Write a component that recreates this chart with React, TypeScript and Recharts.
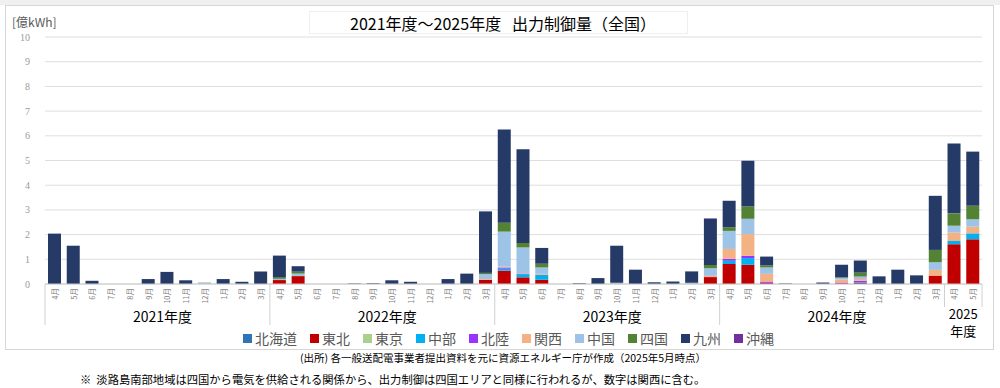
import React from 'react';
import { BarChart, Bar, XAxis, YAxis, CartesianGrid, Legend } from 'recharts';

const monthLabels = [
  '4月','5月','6月','7月','8月','9月','10月','11月','12月','1月','2月','3月',
  '4月','5月','6月','7月','8月','9月','10月','11月','12月','1月','2月','3月',
  '4月','5月','6月','7月','8月','9月','10月','11月','12月','1月','2月','3月',
  '4月','5月','6月','7月','8月','9月','10月','11月','12月','1月','2月','3月',
  '4月','5月',
];

const fiscalYears = [
  '2021年度','2021年度','2021年度','2021年度','2021年度','2021年度','2021年度','2021年度','2021年度','2021年度','2021年度','2021年度',
  '2022年度','2022年度','2022年度','2022年度','2022年度','2022年度','2022年度','2022年度','2022年度','2022年度','2022年度','2022年度',
  '2023年度','2023年度','2023年度','2023年度','2023年度','2023年度','2023年度','2023年度','2023年度','2023年度','2023年度','2023年度',
  '2024年度','2024年度','2024年度','2024年度','2024年度','2024年度','2024年度','2024年度','2024年度','2024年度','2024年度','2024年度',
  '2025年度','2025年度',
];

const seriesNames = ['北海道','東北','東京','中部','北陸','関西','中国','四国','九州','沖縄'];
const seriesColors = ['#2E75B6','#C00000','#A9D18E','#00B0F0','#9933FF','#F4B183','#9DC3E6','#548235','#253A66','#7030A0'];

const hokkaido = [
  0,0,0,0,0,0,0,0,0,0,0,0,
  0,0,0,0,0,0,0,0,0,0,0,0,
  0,0,0,0,0,0,0,0,0,0,0,0,
  0,0,0,0,0,0,0,0,0,0,0,0,
  0,0,
];
const tohoku = [
  0,0,0,0,0,0,0,0,0,0,0,0,
  0.16,0.32,0,0,0,0,0,0,0,0,0,0.17,
  0.54,0.27,0.17,0,0,0,0,0,0,0,0,0.28,
  0.81,0.78,0.05,0,0,0,0.03,0.04,0,0,0,0.34,
  1.61,1.81,
];
const tokyo = [
  0,0,0,0,0,0,0,0,0,0,0,0,
  0,0,0,0,0,0,0,0,0,0,0,0,
  0,0,0,0,0,0,0,0,0,0,0,0,
  0,0,0,0,0,0,0,0,0,0,0,0,
  0,0,
];
const chubu = [
  0,0,0,0,0,0,0,0,0,0,0,0,
  0,0,0,0,0,0,0,0,0,0,0,0,
  0.08,0.13,0.2,0,0,0,0,0,0,0,0,0,
  0.13,0.27,0,0,0,0,0,0.03,0,0,0,0,
  0.13,0.24,
];
const hokuriku = [
  0,0,0,0,0,0,0,0,0,0,0,0,
  0,0,0,0,0,0,0,0,0,0,0,0,
  0.05,0.02,0,0,0,0,0,0,0,0,0,0,
  0.08,0.09,0.05,0,0,0,0.03,0.06,0,0,0,0,
  0,0,
];
const kansai = [
  0,0,0,0,0,0,0,0,0,0,0,0,
  0,0,0,0,0,0,0,0,0,0,0,0.03,
  0.03,0.02,0.04,0,0,0,0,0,0,0,0,0.05,
  0.4,0.88,0.31,0,0,0,0.12,0.07,0,0,0,0.23,
  0.34,0.27,
];
const chugoku = [
  0,0,0,0,0,0,0,0,0.04,0,0,0,
  0.05,0.1,0,0,0,0,0,0,0,0,0,0.2,
  1.42,1.04,0.26,0,0,0,0.05,0,0,0,0.05,0.31,
  0.73,0.62,0.26,0,0,0,0.07,0.1,0,0,0,0.31,
  0.28,0.3,
];
const shikoku = [
  0,0,0,0,0,0,0,0,0,0,0,0,
  0.07,0.08,0,0,0,0,0,0,0,0,0,0.05,
  0.36,0.18,0.15,0,0,0,0,0,0,0,0,0.13,
  0.15,0.5,0.08,0,0,0,0.02,0.16,0,0,0,0.5,
  0.5,0.55,
];
const kyushu = [
  2.04,1.55,0.13,0,0,0.2,0.49,0.15,0.01,0.2,0.09,0.51,
  0.87,0.22,0,0,0.02,0.03,0.15,0.09,0,0.2,0.42,2.49,
  3.78,3.8,0.64,0,0.03,0.24,1.5,0.58,0.07,0.1,0.46,1.87,
  1.07,1.85,0.36,0.02,0,0.06,0.51,0.49,0.31,0.58,0.35,2.19,
  2.83,2.19,
];
const okinawa = [
  0,0,0,0,0,0,0,0,0,0,0,0,
  0,0,0,0,0,0,0,0,0,0,0,0,
  0,0,0,0,0,0,0,0,0,0,0,0.02,
  0,0,0,0,0,0,0,0,0,0,0,0,
  0,0,
];

const yTicks = [0,1,2,3,4,5,6,7,8,9,10];

const seriesValues = [hokkaido, tohoku, tokyo, chubu, hokuriku, kansai, chugoku, shikoku, kyushu, okinawa];

const data = monthLabels.map((m, i) => {
  const row: Record<string, string | number> = { month: m, fy: fiscalYears[i] };
  seriesNames.forEach((n, s) => { row[n] = seriesValues[s][i]; });
  return row;
});

const groupStart = fiscalYears.map((fy) => fiscalYears.indexOf(fy));
const groupSize = fiscalYears.map((fy) => fiscalYears.filter((f) => f === fy).length);

const JP = '"Noto Sans CJK JP", "Noto Sans", sans-serif';

const MonthTick = (props: any) => {
  const { x, y, payload } = props;
  return (
    <g transform={`translate(${x},${y})`}>
      <text transform="rotate(-90)" textAnchor="end" dominantBaseline="central" x={0} y={0}
        fontSize={7.5} fill="#7f7f7f" fontFamily={JP}>{payload.value}</text>
    </g>
  );
};

const YearTick = (props: any) => {
  const { x, y, payload } = props;
  const i = payload.index;
  const half = payload.offset || 9.37;
  const start = groupStart[i];
  const size = groupSize[i];
  const short = size < 6;
  const els: any[] = [];
  if (i === start) {
    els.push(<line key="s" x1={x - half} x2={x - half} y1={y - 28} y2={short ? y - 5 : y + 13} stroke="#d0d0d0" strokeWidth={1} />);
  }
  if (i === fiscalYears.length - 1) {
    els.push(<line key="e" x1={x + half} x2={x + half} y1={y - 28} y2={short ? y - 5 : y + 13} stroke="#d0d0d0" strokeWidth={1} />);
  }
  if (i === start + Math.floor(size / 2) - 1) {
    const v = String(payload.value);
    if (short) {
      els.push(
        <text key="l1" x={x + half} y={y + 1} textAnchor="middle" dominantBaseline="central" fontSize={13} fill="#000" fontFamily={JP}>
          {v.replace('年度', '')}
        </text>
      );
      els.push(
        <text key="l2" x={x + half} y={y + 18} textAnchor="middle" dominantBaseline="central" fontSize={13} fill="#000" fontFamily={JP}>
          年度
        </text>
      );
    } else {
      els.push(
        <text key="l" x={x + half + 5} y={y + 4} textAnchor="middle" dominantBaseline="central" fontSize={14} fill="#000" fontFamily={JP}>{v}</text>
      );
    }
  }
  return <g>{els}</g>;
};

const LegendContent = (props: any) => {
  const payload = [...(props.payload || [])].sort(
    (a: any, b: any) => seriesNames.indexOf(a.value) - seriesNames.indexOf(b.value)
  );
  return (
    <div style={{ display: 'flex', justifyContent: 'center', paddingLeft: 30, fontFamily: JP, fontSize: 14, color: '#595959', lineHeight: '18px' }}>
      {payload.map((p: any) => (
        <span key={p.value} style={{ display: 'inline-flex', alignItems: 'center', marginRight: 13 }}>
          <span style={{ display: 'inline-block', width: 9, height: 9, background: p.color, marginRight: 3 }} />
          {p.value}
        </span>
      ))}
    </div>
  );
};

export default function App() {
  return (
    <div style={{ position: 'absolute', left: 0, top: 0, width: 1000, height: 388, background: '#fff', overflow: 'hidden' }}>
      <div style={{ position: 'absolute', left: 0, top: 0, width: 1000, height: 5, background: '#eef0f2' }} />
      <div style={{ position: 'absolute', left: 5, top: 5, width: 989, height: 345, border: '1px solid #d6d6d6', boxSizing: 'border-box' }} />
      <div style={{ position: 'absolute', left: 309, top: 11, width: 379, height: 23, border: '1px solid #efefef', boxSizing: 'border-box' }} />
      <div style={{ position: 'absolute', left: 0, top: 12, width: 1006, textAlign: 'center', fontFamily: JP, fontSize: 16, lineHeight: '22px', color: '#000', whiteSpace: 'pre' }}>
        {'2021年度～2025年度   出力制御量（全国）'}
      </div>
      <div style={{ position: 'absolute', left: 12, top: 14, fontFamily: JP, fontSize: 12, lineHeight: '16px', color: '#595959' }}>[億kWh]</div>
      <div style={{ position: 'absolute', left: 0, top: 0 }}>
        <BarChart width={1000} height={388} data={data} margin={{ top: 37, right: 18, left: 0, bottom: 46 }}>
          <CartesianGrid vertical={false} stroke="#dedede" />
          <YAxis width={45} domain={[0, 10]} ticks={yTicks} interval={0} axisLine={false} tickLine={false} tickSize={0} tickMargin={15}
            tick={{ fontSize: 10, fill: '#9a9a9a', fontFamily: '"Liberation Serif", serif' }} />
          <XAxis dataKey="month" interval={0} height={28} tickLine={false} tickSize={0} tickMargin={4} axisLine={{ stroke: '#c8c8c8' }} tick={<MonthTick />} />
          <XAxis xAxisId="fy" dataKey="fy" interval={0} height={30} tickLine={false} tickSize={0} tickMargin={0} axisLine={false} tick={<YearTick />} />
          <Legend layout="horizontal" verticalAlign="middle" align="center" content={<LegendContent />}
            wrapperStyle={{ top: 329, left: 0, width: 1000 }} />
          {seriesNames.map((n, s) => (
            <Bar key={n} dataKey={n} stackId="s" fill={seriesColors[s]} barSize={13} isAnimationActive={false} />
          ))}
        </BarChart>
      </div>
      <div style={{ position: 'absolute', left: 300, top: 351, fontFamily: JP, fontSize: 10.5, lineHeight: '14px', color: '#000', whiteSpace: 'nowrap' }}>
        (出所) 各一般送配電事業者提出資料を元に資源エネルギー庁が作成（2025年5月時点）
      </div>
      <div style={{ position: 'absolute', left: 80, top: 372, fontFamily: JP, fontSize: 11.3, lineHeight: '15px', color: '#000', whiteSpace: 'nowrap' }}>
        ※&nbsp;&nbsp;淡路島南部地域は四国から電気を供給される関係から、出力制御は四国エリアと同様に行われるが、数字は関西に含む。
      </div>
    </div>
  );
}
